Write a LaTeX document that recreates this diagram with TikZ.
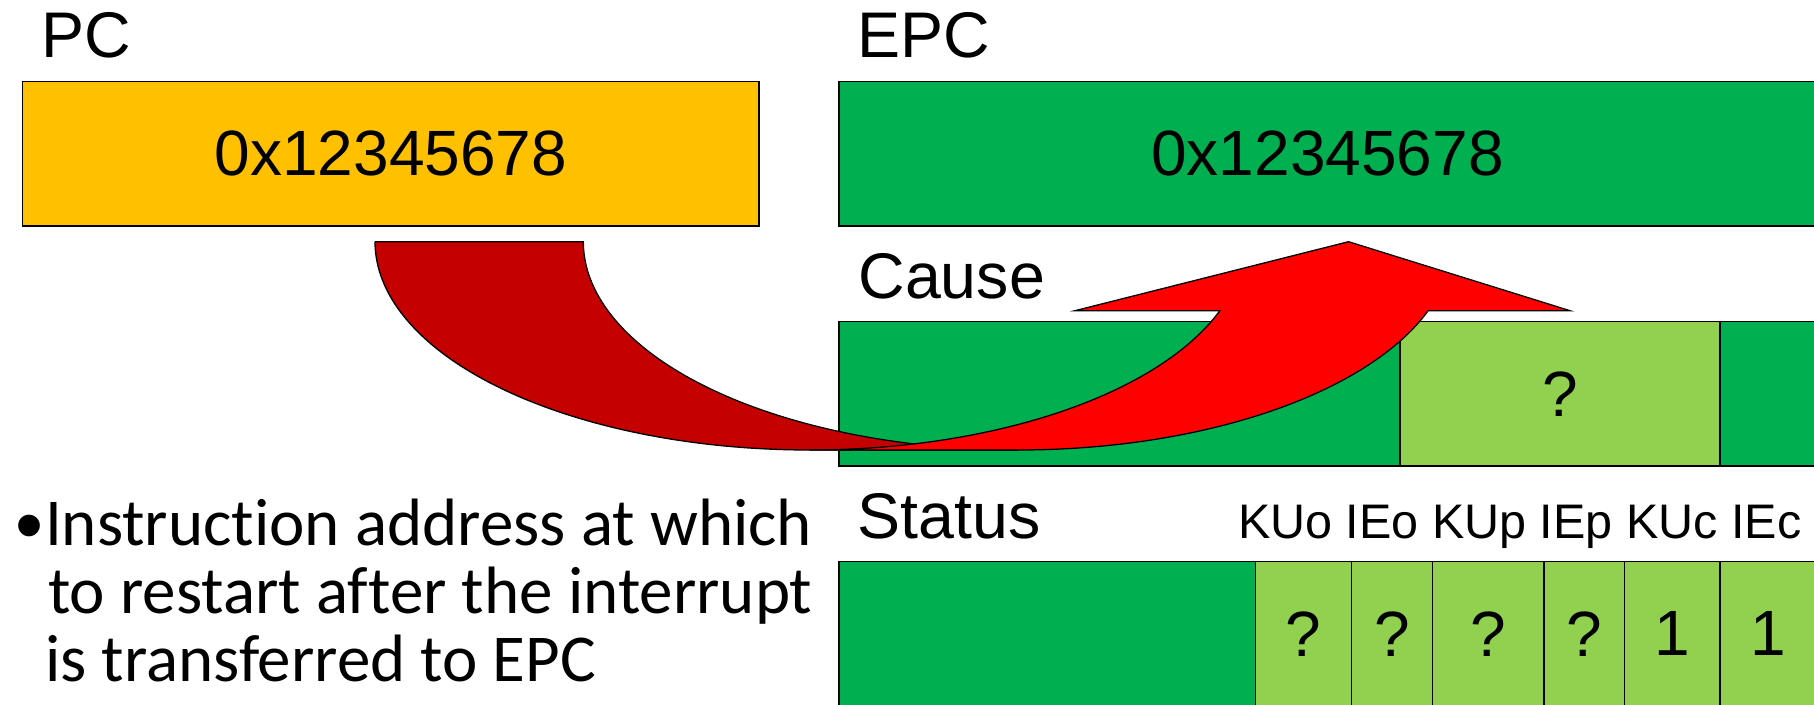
\documentclass[tikz,border=0pt]{standalone}
\usepackage{fontspec}
\setmainfont{Liberation Sans}
\newfontfamily\calib[Ligatures={NoCommon}]{Carlito}
\definecolor{ppyellow}{HTML}{FFC000}
\definecolor{ppgreen}{HTML}{00B050}
\definecolor{pplight}{HTML}{92D050}
\definecolor{ppred}{HTML}{FF0000}
\definecolor{ppdark}{HTML}{C40000}
\begin{document}
\begin{tikzpicture}[x=1pt,y=-1pt,
  reg/.style={draw=black, line width=1.3pt, inner sep=0pt, outer sep=0pt,
              anchor=north west, minimum height=144.3pt,
              font=\fontsize{64}{76}\selectfont},
  lbl/.style={anchor=base west, inner sep=0pt, outer sep=0pt,
              font=\fontsize{64.5}{76}\selectfont},
  bitlbl/.style={anchor=base west, inner sep=0pt, outer sep=0pt,
              font=\fontsize{48.5}{58}\selectfont},
  bodyline/.style={anchor=base west, inner sep=0pt, outer sep=0pt,
              font=\calib\fontsize{67}{68.4}\selectfont},
  arrowpart/.style={draw=black, line width=1.3pt, line join=miter}]
\useasboundingbox (0,0) rectangle (1814,704);

% labels
\node[lbl] (pcl) at (41.8,57.3) {PC};
\node[lbl] (epcl) at (857.7,57.3) {EPC};
\node[lbl] (causel) at (858.5,298.3) {Cause};
\node[lbl] (statl) at (857.5,538.3) {Status};
\node[bitlbl] (bitl) at (1238,538.3) {KUo IEo KUp IEp KUc IEc};

% PC and EPC registers
\node[reg, fill=ppyellow, minimum width=736.3pt] (pc) at (22.7,81.7) {0x12345678};
\node[reg, fill=ppgreen, minimum width=977pt] (epc) at (839,81.7) {0x12345678};

% Cause register
\node[reg, fill=ppgreen, minimum width=561pt] (c1) at (839,321.7) {};
\node[reg, fill=pplight, minimum width=320pt] (c2) at (1400,321.7) {?};
\node[reg, fill=ppgreen, minimum width=110pt] (c3) at (1720,321.7) {};

% Status register
\node[reg, fill=ppgreen, minimum width=416.7pt] (s0) at (839,561.7) {};
\node[reg, fill=pplight, minimum width=96pt] (s1) at (1255.7,561.7) {?};
\node[reg, fill=pplight, minimum width=80.6pt] (s2) at (1351.7,561.7) {?};
\node[reg, fill=pplight, minimum width=111.7pt] (s3) at (1432.3,561.7) {?};
\node[reg, fill=pplight, minimum width=80.3pt] (s4) at (1544,561.7) {?};
\node[reg, fill=pplight, minimum width=95.7pt] (s5) at (1624.3,561.7) {1};
\node[reg, fill=pplight, minimum width=97pt] (s6) at (1720,561.7) {1};

% curved up arrow: back part
\filldraw[arrowpart, fill=ppdark]
  (375,241.7) -- (583.3,241.7)
  -- plot[domain=180:90, samples=80] ({1018+434.7*cos(\x)},{241.7+208.3*sin(\x)})
  -- plot[domain=90:180, samples=80] ({809.7+434.7*cos(\x)},{241.7+208.3*sin(\x)})
  -- cycle;
% curved up arrow: front part
\filldraw[arrowpart, fill=ppred]
  plot[domain=90:19.35, samples=80] ({809.7+434.7*cos(\x)},{241.7+208.3*sin(\x)})
  -- (1075,310.7) -- (1348.5,241.7) -- (1570,310.7) -- (1428.3,310.7)
  -- plot[domain=19.35:90, samples=80] ({1018+434.7*cos(\x)},{241.7+208.3*sin(\x)})
  -- cycle;

% bullet text
\node[inner sep=0pt, font=\fontsize{80}{90}\selectfont] (bul) at (29.5,534) {•};
\node[bodyline] (t1) at (45,545) {Instruction address at which};
\node[bodyline] (t2) at (48,613.3) {to restart after the interrupt};
\node[bodyline] (t3) at (45,681.7) {is transferred to EPC};
\end{tikzpicture}
\end{document}
